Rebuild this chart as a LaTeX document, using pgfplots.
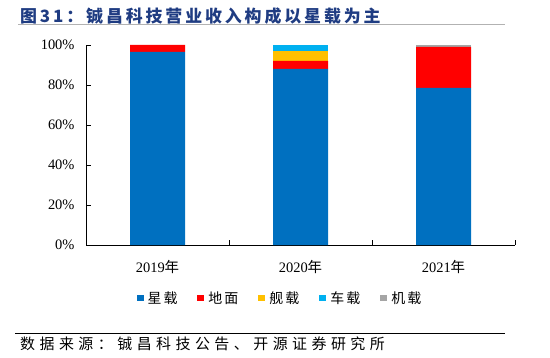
\documentclass[border=0pt]{standalone}
\usepackage{fontspec}
\setmainfont{Liberation Serif}
\newfontfamily\cjk{Noto Sans CJK SC}
\usepackage{pgfplots}
\pgfplotsset{compat=1.18}
\definecolor{cxz}{HTML}{0070C0}
\definecolor{cdm}{HTML}{FF0000}
\definecolor{cjz}{HTML}{FFC000}
\definecolor{ccz}{HTML}{00B0F0}
\definecolor{cjiz}{HTML}{A5A5A5}
\definecolor{titleblue}{HTML}{1F3C82}
\pgfplotsset{sq/.style={legend image code/.code={\fill[##1] (0pt,-3.5pt) rectangle (7pt,3.5pt);}}}
\begin{document}
\begin{tikzpicture}[x=1bp,y=1bp]
\useasboundingbox (0,0) rectangle (550,357);
\node[anchor=west, inner sep=0, text=titleblue, font={\cjk\bfseries\addfontfeature{LetterSpace=17}\fontsize{17}{17}\selectfont}] at (20,341) {图31：铖昌科技营业收入构成以星载为主};
\draw[gray!60, line width=0.8bp] (18,333) -- (505,333);
\draw[black, line width=0.8bp] (15,24) -- (505,24);
\node[anchor=west, inner sep=0, font={\cjk\addfontfeature{LetterSpace=30}\fontsize{15}{15}\selectfont}] at (20,13) {数据来源：铖昌科技公告、开源证券研究所};
\begin{axis}[
  at={(86bp,112bp)}, anchor=south west,
  width=429bp, height=200bp, scale only axis,
  xmin=-0.5, xmax=2.5, ymin=0, ymax=100,
  ybar stacked, bar width=55bp,
  axis lines*=left, axis line style={-, black, line width=0.8bp},
  tick align=inside,
  xtick={0,1,2},
  xticklabels={2019{\cjk 年},2020{\cjk 年},2021{\cjk 年}},
  major x tick style={draw=none},
  minor xtick={-0.5,0.5,1.5,2.5},
  minor tick length=5bp, major tick length=5bp,
  tick style={black, line width=0.8bp},
  ytick={0,20,40,60,80,100},
  yticklabel={\pgfmathprintnumber{\tick}\%},
  /pgf/number format/assume math mode=true,
  tick label style={font=\fontsize{14.5}{14.5}\selectfont},
  yticklabel style={xshift=-8bp},
  xticklabel style={yshift=-12bp},
  legend style={at={(0.452,-0.265)}, anchor=center, draw=none, fill=none,
    legend columns=5, font={\cjk\addfontfeature{LetterSpace=15}\fontsize{14}{14}\selectfont},
    /tikz/every even column/.style={column sep=18bp},
    /tikz/every odd column/.style={column sep=2bp},
    legend cell align=left},
]
\addplot[fill=cxz, draw=none, sq] coordinates {(0,96.5) (1,88) (2,78.6)};
\addplot[fill=cdm, draw=none, sq] coordinates {(0,3.5) (1,4) (2,20.5)};
\addplot[fill=cjz, draw=none, sq] coordinates {(0,0) (1,5) (2,0)};
\addplot[fill=ccz, draw=none, sq] coordinates {(0,0) (1,3) (2,0)};
\addplot[fill=cjiz, draw=none, sq] coordinates {(0,0) (1,0) (2,0.9)};
\legend{星载,地面,舰载,车载,机载}
\end{axis}
\end{tikzpicture}
\end{document}
